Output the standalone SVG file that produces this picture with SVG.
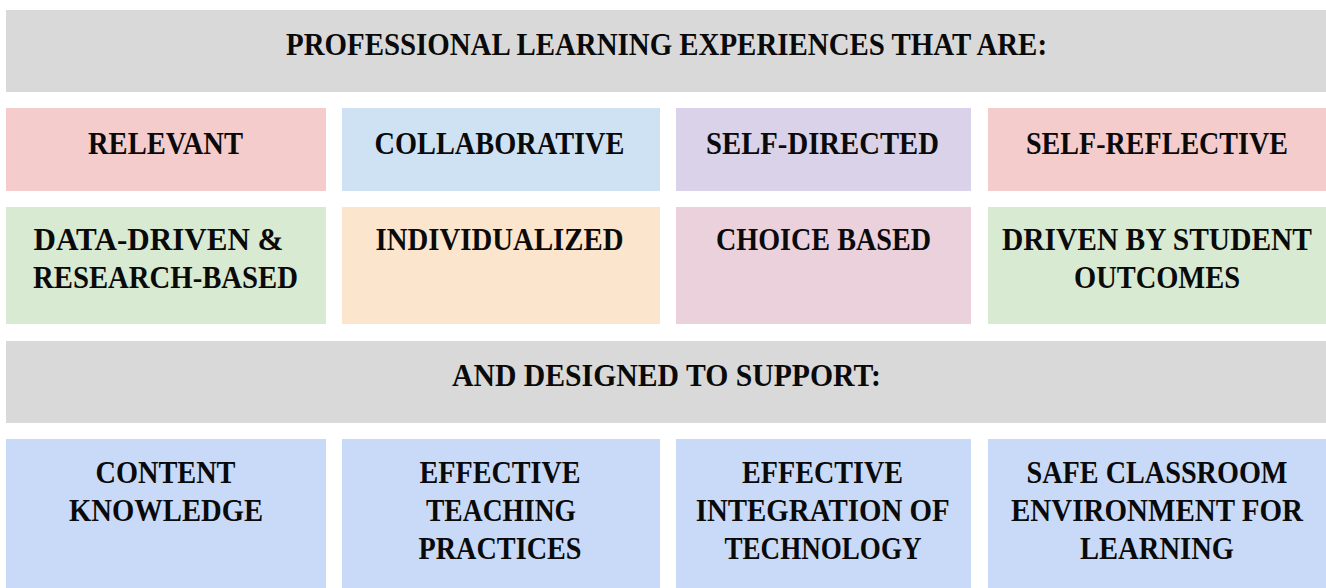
<svg xmlns="http://www.w3.org/2000/svg" width="1326" height="588" viewBox="0 0 1326 588">
<style>
text{font-family:"Liberation Serif","Times New Roman",serif;font-weight:bold;font-size:32px;fill:#0a0a0a;text-anchor:middle}
.gray{fill:#d9d9d9}
.pink{fill:#f4cccc}
.lblue{fill:#cfe2f3}
.lav{fill:#d9d2e9}
.green{fill:#d9ead3}
.peach{fill:#fce5cd}
.rose{fill:#ead1dc}
.blue{fill:#c9daf8}
</style>
<rect width="1326" height="588" fill="#ffffff"/>
<g id="header1"><rect class="gray" x="6" y="10" width="1320" height="82"/><text x="666.5" y="55" textLength="761" lengthAdjust="spacingAndGlyphs">PROFESSIONAL LEARNING EXPERIENCES THAT ARE:</text></g>
<g id="relevant"><rect class="pink" x="6" y="108" width="320" height="83"/><text x="165.5" y="153.5" textLength="155" lengthAdjust="spacingAndGlyphs">RELEVANT</text></g>
<g id="collaborative"><rect class="lblue" x="342" y="108" width="318" height="83"/><text x="499.5" y="153.5" textLength="250" lengthAdjust="spacingAndGlyphs">COLLABORATIVE</text></g>
<g id="self-directed"><rect class="lav" x="676" y="108" width="295" height="83"/><text x="822.5" y="153.5" textLength="233" lengthAdjust="spacingAndGlyphs">SELF-DIRECTED</text></g>
<g id="self-reflective"><rect class="pink" x="988" y="108" width="338" height="83"/><text x="1157" y="153.5" textLength="262" lengthAdjust="spacingAndGlyphs">SELF-REFLECTIVE</text></g>
<g id="data-driven"><rect class="green" x="6" y="207" width="320" height="117"/><text x="158.5" y="250" textLength="250" lengthAdjust="spacingAndGlyphs">DATA-DRIVEN &amp;</text><text x="165.5" y="287.5" textLength="265" lengthAdjust="spacingAndGlyphs">RESEARCH-BASED</text></g>
<g id="individualized"><rect class="peach" x="342" y="207" width="318" height="117"/><text x="499.5" y="250" textLength="248" lengthAdjust="spacingAndGlyphs">INDIVIDUALIZED</text></g>
<g id="choice-based"><rect class="rose" x="676" y="207" width="295" height="117"/><text x="823.5" y="250" textLength="215" lengthAdjust="spacingAndGlyphs">CHOICE BASED</text></g>
<g id="student-outcomes"><rect class="green" x="988" y="207" width="338" height="117"/><text x="1157" y="250" textLength="310" lengthAdjust="spacingAndGlyphs">DRIVEN BY STUDENT</text><text x="1157" y="287.5" textLength="166" lengthAdjust="spacingAndGlyphs">OUTCOMES</text></g>
<g id="header2"><rect class="gray" x="6" y="341" width="1320" height="82"/><text x="666.5" y="386" textLength="429" lengthAdjust="spacingAndGlyphs">AND DESIGNED TO SUPPORT:</text></g>
<g id="content-knowledge"><rect class="blue" x="6" y="439" width="320" height="149"/><text x="165.5" y="483" textLength="140" lengthAdjust="spacingAndGlyphs">CONTENT</text><text x="166" y="521" textLength="194" lengthAdjust="spacingAndGlyphs">KNOWLEDGE</text></g>
<g id="teaching-practices"><rect class="blue" x="342" y="439" width="318" height="149"/><text x="500" y="483" textLength="161" lengthAdjust="spacingAndGlyphs">EFFECTIVE</text><text x="501" y="521" textLength="150" lengthAdjust="spacingAndGlyphs">TEACHING</text><text x="500" y="559" textLength="163" lengthAdjust="spacingAndGlyphs">PRACTICES</text></g>
<g id="technology"><rect class="blue" x="676" y="439" width="295" height="149"/><text x="822.5" y="483" textLength="161" lengthAdjust="spacingAndGlyphs">EFFECTIVE</text><text x="822.7" y="521" textLength="254" lengthAdjust="spacingAndGlyphs">INTEGRATION OF</text><text x="823" y="559" textLength="197" lengthAdjust="spacingAndGlyphs">TECHNOLOGY</text></g>
<g id="safe-classroom"><rect class="blue" x="988" y="439" width="338" height="149"/><text x="1157" y="483" textLength="261" lengthAdjust="spacingAndGlyphs">SAFE CLASSROOM</text><text x="1157" y="521" textLength="292" lengthAdjust="spacingAndGlyphs">ENVIRONMENT FOR</text><text x="1157" y="559" textLength="154" lengthAdjust="spacingAndGlyphs">LEARNING</text></g>
<g id="connectors"></g>
</svg>
